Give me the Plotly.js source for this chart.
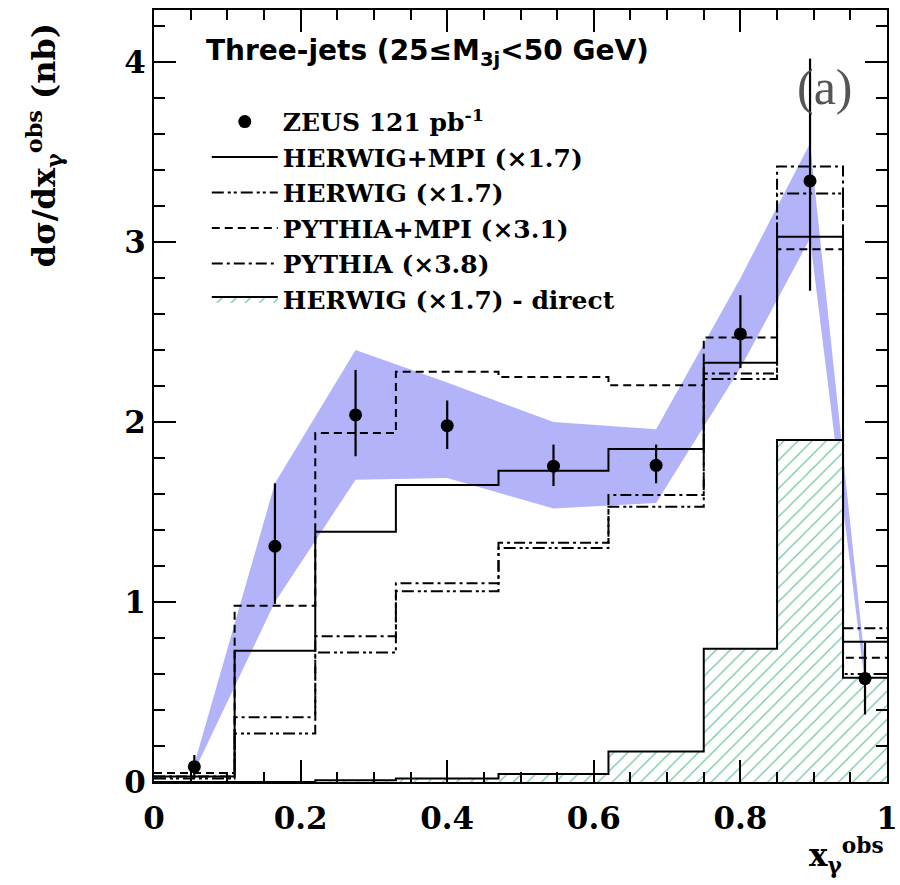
<!DOCTYPE html>
<html><head><meta charset="utf-8">
<script src="https://cdn.plot.ly/plotly-3.0.1.min.js"></script>
<style>html,body{margin:0;padding:0;background:#fff}</style>
</head><body><div id="chart" style="width:900px;height:885px"></div>
<script>
// Bin structure (x_gamma^obs)
const binEdges   = [0, 0.11, 0.22, 0.33, 0.47, 0.62, 0.75, 0.85, 0.94, 1.0];
const binCenters = [0.055, 0.165, 0.275, 0.40, 0.545, 0.685, 0.80, 0.895, 0.97];

// ZEUS data
const zeusValues  = [0.085, 1.31, 2.04, 1.98, 1.755, 1.76, 2.49, 3.34, 0.575];
const zeusErrUp   = [0.065, 0.35, 0.25, 0.14, 0.12, 0.115, 0.215, 0.68, 0.20];
const zeusErrDown = [0.065, 0.32, 0.23, 0.13, 0.11, 0.10, 0.19, 0.61, 0.20];

// Shaded uncertainty band (at bin centres)
const bandUpper = [0.10, 1.66, 2.40, 2.22, 2.00, 1.96, 2.80, 3.55, 0.66];
const bandLower = [0.06, 1.00, 1.68, 1.69, 1.52, 1.55, 2.30, 3.02, 0.54];

// MC predictions (per bin)
const herwigMpi    = [0.03, 0.73, 1.39, 1.65, 1.73, 1.85, 2.33, 3.03, 0.78];
const herwig       = [0.02, 0.27, 0.72, 1.06, 1.30, 1.53, 2.24, 3.27, 0.60];
const pythiaMpi    = [0.05, 0.98, 1.94, 2.28, 2.25, 2.205, 2.47, 2.96, 0.69];
const pythia       = [0.03, 0.36, 0.81, 1.105, 1.33, 1.595, 2.27, 3.42, 0.855];
const herwigDirect = [0.0, 0.0, 0.01, 0.02, 0.045, 0.17, 0.74, 1.90, 0.58];

// Tick labels
const xTickVals = [0, 0.2, 0.4, 0.6, 0.8, 1];
const xTickText = ['0', '0.2', '0.4', '0.6', '0.8', '1'];
const yTickVals = [0, 1, 2, 3, 4];
const yTickText = ['0', '1', '2', '3', '4'];

const stepY = v => v.concat([v[v.length - 1]]);

const serif = 'DejaVu Serif, serif';
const sans = 'DejaVu Sans, sans-serif';

function histTrace(name, vals, dash, rank) {
  return {
    type: 'scatter', mode: 'lines', name: name,
    x: binEdges, y: stepY(vals),
    line: {shape: 'hv', color: '#000', width: 2, dash: dash},
    legendrank: rank, hoverinfo: 'skip'
  };
}

const traces = [
  {
    type: 'scatter', mode: 'lines', showlegend: false,
    x: binCenters.concat(binCenters.slice().reverse()),
    y: bandUpper.concat(bandLower.slice().reverse()),
    fill: 'toself', fillcolor: '#b3b3fa', line: {width: 0, color: 'rgba(0,0,0,0)'},
    hoverinfo: 'skip'
  },
  {
    type: 'scatter', mode: 'lines', name: 'HERWIG (×1.7) - direct',
    x: binEdges, y: stepY(herwigDirect),
    line: {shape: 'hv', color: '#000', width: 2},
    fill: 'tozeroy', fillcolor: '#ffffff',
    fillpattern: {shape: '/', fgcolor: '#6cc79c', bgcolor: '#ffffff', size: 10, solidity: 0.12},
    legendrank: 6, hoverinfo: 'skip'
  },
  histTrace('HERWIG+MPI (×1.7)', herwigMpi, 'solid', 2),
  histTrace('HERWIG (×1.7)', herwig, '12px,4px,3px,3px,3px,4px', 3),
  histTrace('PYTHIA+MPI (×3.1)', pythiaMpi, '8px,5px', 4),
  histTrace('PYTHIA (×3.8)', pythia, '11px,4px,3px,4px', 5),
  {
    type: 'scatter', mode: 'markers', name: 'ZEUS 121 pb<sup>-1</sup>',
    x: binCenters, y: zeusValues,
    marker: {color: '#000', size: 13, symbol: 'circle'},
    error_y: {type: 'data', symmetric: false, array: zeusErrUp, arrayminus: zeusErrDown,
              color: '#000', thickness: 2.2, width: 0},
    legendrank: 1
  }
];

const axisCommon = {
  showline: true, linecolor: '#000', linewidth: 2, mirror: 'allticks',
  ticks: 'inside', ticklen: 22, tickwidth: 2, tickcolor: '#000',
  showgrid: false, zeroline: false, ticklabeloverflow: 'allow',
  tickfont: {family: serif, size: 31, color: '#000', weight: 'bold'}
};

const layout = {
  width: 900, height: 885,
  margin: {l: 154, r: 13, t: 10, b: 103},
  paper_bgcolor: '#fff', plot_bgcolor: '#fff',
  showlegend: true,
  legend: {
    x: 0.072, y: 0.885, xanchor: 'left', yanchor: 'top',
    bgcolor: 'rgba(0,0,0,0)', borderwidth: 0,
    font: {family: serif, size: 25, color: '#000', weight: 'bold'},
    itemwidth: 66, tracegroupgap: 0
  },
  xaxis: Object.assign({}, axisCommon, {
    range: [0, 1], tickvals: xTickVals, ticktext: xTickText,
    ticklabelstandoff: 8,
    minor: {dtick: 0.05, ticklen: 10, tickwidth: 2, tickcolor: '#000', ticks: 'inside'}
  }),
  yaxis: Object.assign({}, axisCommon, {
    range: [0, 4.29], tickvals: yTickVals, ticktext: yTickText,
    minor: {dtick: 0.2, ticklen: 11, tickwidth: 2, tickcolor: '#000', ticks: 'inside'}
  }),
  annotations: [
    {xref: 'paper', yref: 'paper', x: 0.068, y: 0.945, xanchor: 'left', yanchor: 'middle', showarrow: false,
     text: 'Three-jets (25≤M<sub>3j</sub>&lt;50 GeV)',
     font: {family: sans, size: 28, color: '#000', weight: 'bold'}},
    {xref: 'paper', yref: 'paper', x: 0.916, y: 0.9, xanchor: 'center', yanchor: 'middle', showarrow: false,
     text: '(a)', font: {family: 'Liberation Serif, serif', size: 50, color: '#555'}},
    {xref: 'paper', yref: 'paper', x: -0.15, y: 0.825, xanchor: 'center', yanchor: 'middle', showarrow: false,
     textangle: -90, text: 'dσ/dx<sub>γ</sub><sup>obs</sup> (nb)',
     font: {family: serif, size: 32, color: '#000', weight: 'bold'}},
    {xref: 'paper', yref: 'paper', x: 0.945, y: -0.095, xanchor: 'center', yanchor: 'middle', showarrow: false,
     text: 'x<sub>γ</sub><sup>obs</sup>',
     font: {family: serif, size: 31, color: '#000', weight: 'bold'}}
  ]
};

Plotly.newPlot('chart', traces, layout, {displayModeBar: false, staticPlot: true});
</script>
</body></html>
